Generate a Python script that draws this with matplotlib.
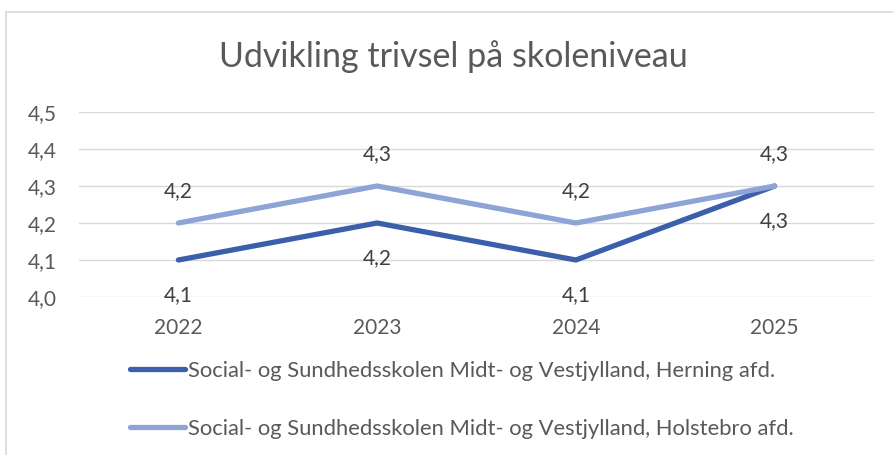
import matplotlib
matplotlib.use("Agg")
from matplotlib import pyplot as plt
from matplotlib.patches import Rectangle

plt.rcParams['font.family'] = ['Lato', 'DejaVu Sans']

# Data
years = ['2022', '2023', '2024', '2025']
herning = [4.1, 4.2, 4.1, 4.3]
holstebro = [4.2, 4.3, 4.2, 4.3]
y_ticks = [4.0, 4.1, 4.2, 4.3, 4.4, 4.5]
title = "Udvikling trivsel på skoleniveau"
lbl_herning = "Social- og Sundhedsskolen Midt- og Vestjylland, Herning afd."
lbl_holstebro = "Social- og Sundhedsskolen Midt- og Vestjylland, Holstebro afd."

c_dark = '#3B5FAB'
c_light = '#8EA4D6'
txt = '#595959'


def fmt(v):
    return f"{v:.1f}".replace('.', ',')


fig = plt.figure(figsize=(8.93, 4.55), dpi=100)

# chart frame
fig.patches.append(Rectangle((6/893, -0.1), 1.2, 1 - 12/455 + 0.1, transform=fig.transFigure,
                             fill=False, edgecolor='#d9d9d9', linewidth=1.2, zorder=0))

ax = fig.add_axes([79/893, 1 - 297/455, 795/893, 185/455])
x = list(range(len(years)))

ax.plot(x, herning, color=c_dark, linewidth=3.8, solid_capstyle='round', label=lbl_herning, zorder=3)
ax.plot(x, holstebro, color=c_light, linewidth=3.8, solid_capstyle='round', label=lbl_holstebro, zorder=3)

# Data labels
for xi, v in zip(x, herning):
    ax.annotate(fmt(v), (xi, v), xytext=(0, -25), textcoords='offset points',
                ha='center', va='center', fontsize=15, color='#404040')
for xi, v in zip(x, holstebro):
    ax.annotate(fmt(v), (xi, v), xytext=(0, 23), textcoords='offset points',
                ha='center', va='center', fontsize=15, color='#404040')

ax.set_xlim(-0.5, 3.5)
ax.set_ylim(4.0, 4.5)
ax.set_xticks(x)
ax.set_xticklabels(years)
ax.set_yticks(y_ticks)
ax.set_yticklabels([fmt(v) for v in y_ticks])
ax.tick_params(axis='both', length=0, labelsize=15, labelcolor=txt)
ax.tick_params(axis='x', pad=15)
ax.tick_params(axis='y', pad=16)
ax.grid(True, axis='y', color='#d9d9d9', linewidth=1)
ax.set_axisbelow(True)
for s in ax.spines.values():
    s.set_visible(False)

fig.text(0.508, 1 - 57/455, title, ha='center', va='center', fontsize=24.5,
         color=txt)

fig.legend(loc='center left', bbox_to_anchor=(130/893, 1 - 400/455), frameon=False,
           fontsize=15.8, labelcolor=txt, handlelength=2.5, handletextpad=0.15,
           labelspacing=1.72, borderpad=0, borderaxespad=0)

fig.savefig('out.png', dpi=100)
